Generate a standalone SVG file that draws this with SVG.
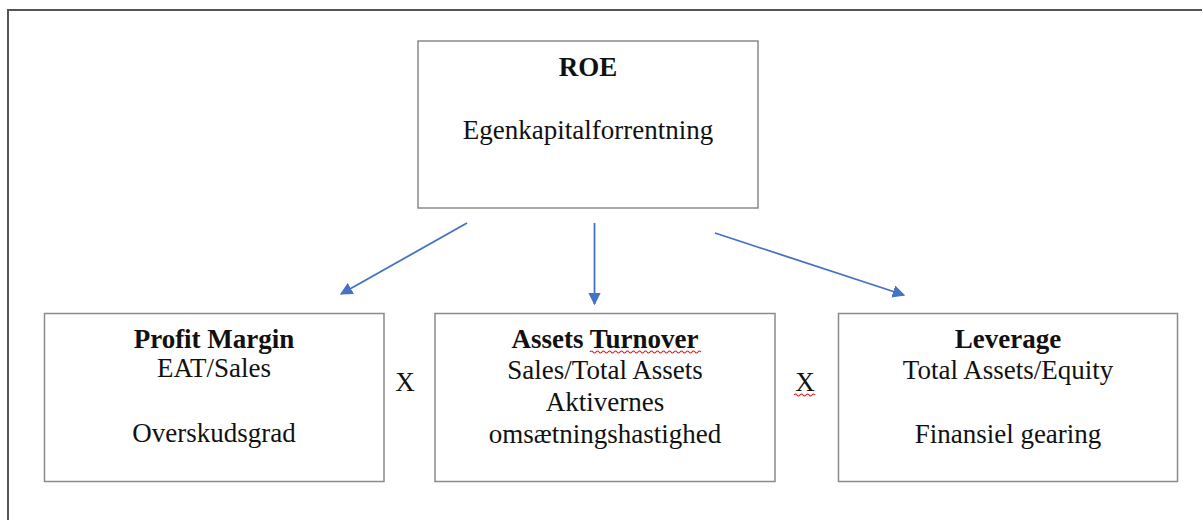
<svg xmlns="http://www.w3.org/2000/svg" width="1203" height="520" viewBox="0 0 1203 520">
<style>
.box{fill:#fff;stroke:#8a8a8a;stroke-width:1.5}
.t{font-family:"Liberation Serif","Times New Roman",serif;font-size:27px;fill:#111;text-anchor:middle}
.b{font-weight:bold}
.conn{stroke:#4472C4;stroke-width:1.8;fill:none;marker-end:url(#ah)}
.sq{stroke:#e02020;stroke-width:1.2;fill:none}
</style>
<defs>
<marker id="ah" viewBox="0 0 10 10" refX="9" refY="5" markerWidth="7" markerHeight="7" orient="auto" markerUnits="strokeWidth">
<path d="M0,0 L10,5 L0,10 z" fill="#4472C4"/>
</marker>
</defs>
<rect width="1203" height="520" fill="#fff"/>
<g id="frame">
<path d="M8,520 L8,10 L1202,10" fill="none" stroke="#555" stroke-width="2"/>
</g>
<g id="roe">
<rect class="box" x="418" y="41" width="340" height="167"/>
<text class="t b" x="588" y="76">ROE</text>
<text class="t" x="588" y="139">Egenkapitalforrentning</text>
</g>
<g id="profit-margin">
<rect class="box" x="44.5" y="313.5" width="339.5" height="168"/>
<text class="t b" x="214" y="348">Profit Margin</text>
<text class="t" x="214" y="377">EAT/Sales</text>
<text class="t" x="214" y="442">Overskudsgrad</text>
</g>
<g id="assets-turnover">
<rect class="box" x="435" y="313.5" width="340" height="168"/>
<text class="t b" x="605" y="348">Assets Turnover</text>
<path class="sq" d="M590,352 q1.5,-2 3,0 t3,0 t3,0 t3,0 t3,0 t3,0 t3,0 t3,0 t3,0 t3,0 t3,0 t3,0 t3,0 t3,0 t3,0 t3,0 t3,0 t3,0 t3,0 t3,0 t3,0 t3,0 t3,0 t3,0 t3,0 t3,0 t3,0 t3,0 t3,0 t3,0 t3,0 t3,0 t3,0 t3,0 t3,0 t3,0 t3,0"/>
<text class="t" x="605" y="379">Sales/Total Assets</text>
<text class="t" x="605" y="411">Aktivernes</text>
<text class="t" x="605" y="443">omsætningshastighed</text>
</g>
<g id="leverage">
<rect class="box" x="838.5" y="313.5" width="339" height="168"/>
<text class="t b" x="1008" y="348">Leverage</text>
<text class="t" x="1008" y="379">Total Assets/Equity</text>
<text class="t" x="1008" y="443">Finansiel gearing</text>
</g>
<g id="operators">
<text class="t" x="405" y="391">X</text>
<text class="t" x="805" y="391">X</text>
<path class="sq" d="M794,395 q1.5,-2 3,0 t3,0 t3,0 t3,0 t3,0 t3,0 t3,0"/>
</g>
<g id="connectors">
<line class="conn" x1="467" y1="223" x2="341" y2="294"/>
<line class="conn" x1="594.5" y1="223" x2="594.5" y2="304"/>
<line class="conn" x1="715" y1="233" x2="904" y2="295"/>
</g>
</svg>
